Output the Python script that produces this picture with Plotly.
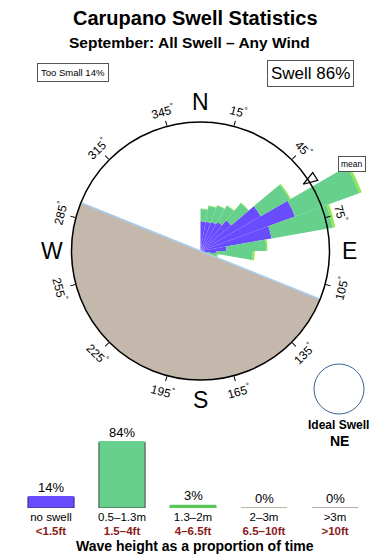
import numpy as np
import plotly.graph_objects as go

# ---------------- data ----------------
dir_bins = [5, 15, 25, 35, 45, 55, 65, 75, 85, 95, 105]          # bearing (deg)
rose_blue = [23, 23, 24, 26, 31, 54, 78, 56, 20, 12, 5]           # no swell
rose_green = [9.5, 12.5, 13.5, 14.5, 17.5, 26, 53, 48, 31, 28.5, 8]  # 0.5-1.3m
rose_lime = [0.5, 0.5, 0.5, 0.5, 0.5, 1, 2, 2, 1, 1.5, 1]         # 1.3-2m
mean_dir = 57
land_from, land_to = 112, 292
deg_labels = [15, 45, 75, 105, 135, 165, 195, 225, 255, 285, 315, 345]
compass = ["N", "E", "S", "W"]
compass_deg = [0, 90, 180, 270]

cats_m = ["no swell", "0.5–1.3m", "1.3–2m", "2–3m", ">3m"]
cats_ft = ["&lt;1.5ft", "1.5–4ft", "4–6.5ft", "6.5–10ft", "&gt;10ft"]
pct = [14, 84, 3, 0, 0]
too_small = 14
swell = 86
ideal = "NE"

# ---------------- style ----------------
W, H = 390, 560
FONT = "Liberation Sans, Arial, sans-serif"
BLUE, GREEN, LIME = "#6a4cff", "#66d08c", "#8ee84a"
LAND, COAST = "#c4b8ac", "#a8ccee"
bar_cols = [BLUE, GREEN, "#5cc65c", "#b8b8a8", "#b8a8a8"]
bar_lines = ["#333366", "#444444", "#5cc65c", "#b8b8a8", "#b8a8a8"]

CX, CY, RC, RP = 200.5, 251, 129, 180   # centre, circle radius, polar radius (px)
R_CIRCLE = 100.0
R_MAX = R_CIRCLE * RP / RC


def px(x):
    return x / W


def py(y):
    return 1 - y / H


def note(x, y, text, size, **kw):
    d = dict(x=px(x), y=py(y), xref="paper", yref="paper", showarrow=False,
             xanchor="center", yanchor="middle", text=text,
             font=dict(family=FONT, size=size, color=kw.pop("color", "black")))
    d.update(kw)
    return d


fig = go.Figure()

# land half
fig.add_trace(go.Barpolar(r=[R_CIRCLE], theta=[(land_from + land_to) / 2],
                          width=[land_to - land_from], marker_color=LAND,
                          marker_line_width=0, subplot="polar", showlegend=False,
                          hoverinfo="skip"))
# rose bars
for vals, col in [(rose_blue, BLUE), (rose_green, GREEN), (rose_lime, LIME)]:
    fig.add_trace(go.Barpolar(r=vals, theta=dir_bins, width=[10] * len(dir_bins),
                              marker_color=col, marker_line_width=0,
                              subplot="polar", showlegend=False))
# coastline
fig.add_trace(go.Scatterpolar(r=[R_CIRCLE, 0, R_CIRCLE], theta=[land_to, 0, land_from],
                              mode="lines", line=dict(color=COAST, width=1.5),
                              subplot="polar", showlegend=False, hoverinfo="skip"))
# mean arrow
fig.add_trace(go.Scatterpolar(r=[R_CIRCLE * 0.95], theta=[mean_dir], mode="markers",
                              marker=dict(symbol="arrow", size=15, angle=mean_dir + 180,
                                          color="white", line=dict(color="black", width=1.2)),
                              subplot="polar", showlegend=False))
# frame polar (circle + ticks)
fig.add_trace(go.Scatterpolar(r=[0], theta=[0], mode="markers", marker_opacity=0,
                              subplot="polar2", showlegend=False, hoverinfo="skip"))

fig.update_layout(
    polar=dict(
        domain=dict(x=[px(CX - RP), px(CX + RP)], y=[py(CY + RP), py(CY - RP)]),
        bgcolor="rgba(0,0,0,0)", barmode="stack",
        radialaxis=dict(range=[0, R_MAX], visible=False),
        angularaxis=dict(rotation=90, direction="clockwise", visible=False),
    ),
    polar2=dict(
        domain=dict(x=[px(CX - RC), px(CX + RC)], y=[py(CY + RC), py(CY - RC)]),
        bgcolor="rgba(0,0,0,0)",
        radialaxis=dict(range=[0, 1], visible=False),
        angularaxis=dict(rotation=90, direction="clockwise", showline=True,
                         linecolor="black", linewidth=1.5, showgrid=False,
                         ticks="outside", ticklen=5, tickcolor="black", tickwidth=1,
                         tickmode="array", tickvals=deg_labels, showticklabels=False),
    ),
)

ann = []
# degree labels
for d in deg_labels:
    r = 145
    x = CX + r * np.sin(np.radians(d))
    y = CY - r * np.cos(np.radians(d))
    ang = d if (d < 90 or d > 270) else d - 180
    if ang > 180:
        ang -= 360
    ann.append(note(x, y, f"{d}<sup>°</sup>", 12, textangle=ang))
for lab, d in zip(compass, compass_deg):
    r = 149
    x = CX + r * np.sin(np.radians(d))
    y = CY - r * np.cos(np.radians(d))
    ann.append(note(x, y, lab, 23))

# titles and boxes
ann += [
    note(195, 18, "<b>Carupano Swell Statistics</b>", 20),
    note(189, 43, "<b>September: All Swell – Any Wind</b>", 15.5),
    note(73, 73, f"Too Small {too_small}%", 9.5, bordercolor="#555", borderwidth=1,
         borderpad=3, bgcolor="white"),
    note(310, 74, f"Swell {swell}%", 17, bordercolor="#555", borderwidth=1,
         borderpad=3, bgcolor="white"),
    note(352, 164, "mean", 8.5, bordercolor="#555", borderwidth=1, borderpad=2,
         bgcolor="white"),
    note(338, 425, "<b>Ideal Swell</b>", 12),
    note(339, 441, f"<b>{ideal}</b>", 14),
    note(195, 546, "<b>Wave height as a proportion of time</b>", 14),
]

# ---------------- bottom bar chart ----------------
xs = list(range(len(pct)))
BW = 0.65
fig.add_trace(go.Bar(x=xs, y=pct, width=BW, marker=dict(color=bar_cols,
                     line=dict(color=bar_lines, width=1)),
                     xaxis="x", yaxis="y", showlegend=False))
for i, v in enumerate(pct):
    fig.add_trace(go.Scatter(x=[i - BW / 2, i + BW / 2], y=[v, v], mode="lines",
                             line=dict(color=bar_cols[i], width=2), xaxis="x", yaxis="y",
                             showlegend=False, hoverinfo="skip"))
    ann.append(dict(x=i, y=v, xref="x", yref="y", yshift=10, showarrow=False,
                    xanchor="center", yanchor="middle",
                    text=f"{v}%", font=dict(family=FONT, size=13, color="black")))

y_base = 508
fig.update_layout(
    xaxis=dict(domain=[px(15.5), px(370.5)], range=[-0.5, 4.5], anchor="y",
               showgrid=False, zeroline=False, showline=False, ticks="",
               tickmode="array", tickvals=xs, ticklabelstandoff=0,
               ticktext=[f"{m}<br><span style='color:#8b1a1a'><b>{f}</b></span>"
                         for m, f in zip(cats_m, cats_ft)],
               tickfont=dict(family=FONT, size=11.5, color="black"), fixedrange=True),
    yaxis=dict(domain=[py(y_base), py(y_base - 80)], range=[0, 80 / (66 / 84)],
               visible=False, fixedrange=True),
)

fig.update_layout(
    width=W, height=H, autosize=False,
    margin=dict(l=0, r=0, t=0, b=0),
    paper_bgcolor="white", plot_bgcolor="white",
    annotations=ann,
    shapes=[dict(type="circle", xref="paper", yref="paper",
                 x0=px(339 - 25), x1=px(339 + 25), y0=py(389 + 25), y1=py(389 - 25),
                 line=dict(color="#3a6090", width=1))],
    font=dict(family=FONT),
)

fig.write_html("out.html")
